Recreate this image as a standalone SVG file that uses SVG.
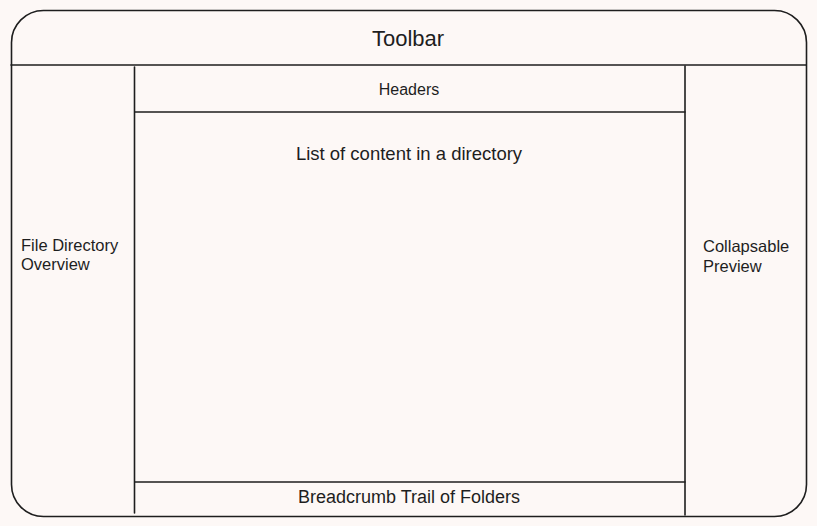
<svg xmlns="http://www.w3.org/2000/svg" width="817" height="526" viewBox="0 0 817 526">
<style>
.ln{fill:none;stroke:#1e1e1e;stroke-width:1.6;stroke-linecap:round}
.t{font-family:"Liberation Sans",Arial,sans-serif;fill:#1e1e1e}
</style>
<rect x="0" y="0" width="817" height="526" fill="#fdf8f6"/>
<g id="frame">
<rect class="ln" x="11.5" y="10.5" width="795" height="506" rx="32" ry="32"/>
</g>
<g id="toolbar">
<line class="ln" x1="11" y1="65" x2="806" y2="65"/>
<text class="t" x="408" y="46" font-size="22" text-anchor="middle">Toolbar</text>
</g>
<g id="file-directory">
<line class="ln" x1="134.5" y1="67" x2="134.5" y2="513"/>
<text class="t" x="21" y="251" font-size="16.5">File Directory</text>
<text class="t" x="21" y="270" font-size="16.5">Overview</text>
</g>
<g id="headers">
<line class="ln" x1="135" y1="112" x2="685" y2="112"/>
<text class="t" x="409" y="95" font-size="16" text-anchor="middle">Headers</text>
</g>
<g id="content-list">
<text class="t" x="409" y="160" font-size="18.5" text-anchor="middle">List of content in a directory</text>
</g>
<g id="breadcrumb">
<line class="ln" x1="135" y1="482" x2="685" y2="482"/>
<text class="t" x="409" y="503" font-size="18" text-anchor="middle">Breadcrumb Trail of Folders</text>
</g>
<g id="preview">
<line class="ln" x1="685" y1="66" x2="685" y2="515"/>
<text class="t" x="703" y="252" font-size="16.5">Collapsable</text>
<text class="t" x="703" y="272" font-size="16.5">Preview</text>
</g>
<g id="connectors"></g>
</svg>
